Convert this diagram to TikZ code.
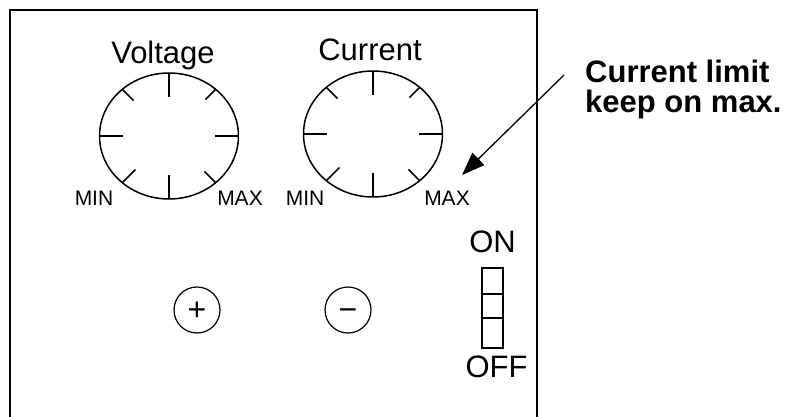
\documentclass[tikz,border=0pt]{standalone}
\usepackage{fontspec}
\setmainfont{Liberation Sans}
\usetikzlibrary{positioning,calc,shapes.geometric,arrows.meta}
\tikzset{
  dial/.style={draw, ellipse, line width=1.5pt, minimum width=139pt, minimum height=126pt, inner sep=0, outer sep=0},
  tick/.style={line width=1.5pt},
  biglabel/.style={inner sep=0, font=\fontsize{31}{31}\selectfont},
  smalllabel/.style={inner sep=0, font=\fontsize{21}{21}\selectfont},
  jack/.style={draw, circle, line width=1.2pt, minimum size=46pt, inner sep=0, font=\fontsize{32}{32}\selectfont},
}
\newcommand{\jacksign}[1]{\raisebox{0pt}[0.68em][0pt]{#1}}
\begin{document}
\begin{tikzpicture}[x=1pt,y=-1pt]
\useasboundingbox (0,0) rectangle (794,417);
% front panel
\draw[line width=2pt] (10,417) -- (10,10) -- (537,10) -- (537,417);

% dials
\node[dial] (volt) at (169,136) {};
\node[dial] (curr) at (373,134) {};
\foreach \a/\f in {0/.66,90/.62,180/.66,270/.62,45/.78,135/.76,225/.72,315/.76} {
  \draw[tick] (volt.\a) -- ($(volt.center)!\f!(volt.\a)$);
  \draw[tick] (curr.\a) -- ($(curr.center)!\f!(curr.\a)$);
}
\node[biglabel, above=3pt of volt, xshift=-6pt] (voltlabel) {Voltage};
\node[biglabel, above=10pt of curr, xshift=-3pt] (currlabel) {Current};
\node[smalllabel, anchor=base] (vmin) at (94,205) {MIN};
\node[smalllabel, anchor=base] (vmax) at (240,205) {MAX};
\node[smalllabel, anchor=base] (cmin) at (305,205) {MIN};
\node[smalllabel, anchor=base] (cmax) at (447,205) {MAX};

% terminals
\node[jack] (plus) at (197,310) {\jacksign{+}};
\node[jack] (minus) at (348,310) {\jacksign{−}};

% power switch
\node[draw, line width=1.5pt, minimum width=21pt, minimum height=80pt, inner sep=0, outer sep=0] (switch) at (492.5,308) {};
\draw[tick] (switch.west |- 0,294) -- (switch.east |- 0,294);
\draw[tick] (switch.west |- 0,318) -- (switch.east |- 0,318);
\node[biglabel, above=15pt of switch] (on) {ON};
\node[biglabel, below=8pt of switch, xshift=4pt] (off) {OFF};

% note
\node[inner sep=0, align=left, anchor=base west, font=\bfseries\fontsize{31}{30}\selectfont] (note) at (585,113) {Current limit\\keep on max.};
\coordinate (tail) at (564,75);
\coordinate (tip) at (462,175);
\draw[line width=1.3pt, -{Triangle[length=23pt,width=17pt]}] (tail) -- (tip);
\end{tikzpicture}
\end{document}
